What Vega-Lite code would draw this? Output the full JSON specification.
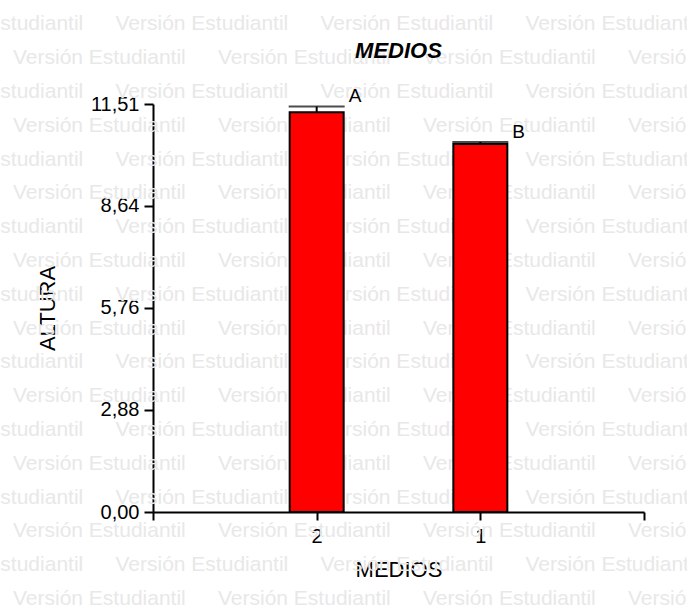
{
  "$schema": "https://vega.github.io/schema/vega-lite/v6.json",
  "width": 491,
  "height": 408,
  "autosize": {"type": "none"},
  "padding": {"left": 153, "top": 104, "right": 43, "bottom": 98},
  "background": "white",
  "config": {"view": {"stroke": null}, "font": "Liberation Sans"},
  "title": {"text": "MEDIOS", "fontSize": 22, "fontStyle": "italic", "fontWeight": "bold", "color": "black", "anchor": "middle", "offset": -50, "font": "Liberation Sans"},
  "datasets": {
    "medias": [
      {"MEDIOS": "2", "ALTURA": 11.28, "lim_sup": 11.44, "letra": "A"},
      {"MEDIOS": "1", "ALTURA": 10.38, "lim_sup": 10.44, "letra": "B"}
    ],
    "marca": [
      {"fila": 0, "col": -0.5}, {"fila": 0, "col": 0.5}, {"fila": 0, "col": 1.5}, {"fila": 0, "col": 2.5},
      {"fila": 1, "col": 0}, {"fila": 1, "col": 1}, {"fila": 1, "col": 2}, {"fila": 1, "col": 3},
      {"fila": 2, "col": -0.5}, {"fila": 2, "col": 0.5}, {"fila": 2, "col": 1.5}, {"fila": 2, "col": 2.5},
      {"fila": 3, "col": 0}, {"fila": 3, "col": 1}, {"fila": 3, "col": 2}, {"fila": 3, "col": 3},
      {"fila": 4, "col": -0.5}, {"fila": 4, "col": 0.5}, {"fila": 4, "col": 1.5}, {"fila": 4, "col": 2.5},
      {"fila": 5, "col": 0}, {"fila": 5, "col": 1}, {"fila": 5, "col": 2}, {"fila": 5, "col": 3},
      {"fila": 6, "col": -0.5}, {"fila": 6, "col": 0.5}, {"fila": 6, "col": 1.5}, {"fila": 6, "col": 2.5},
      {"fila": 7, "col": 0}, {"fila": 7, "col": 1}, {"fila": 7, "col": 2}, {"fila": 7, "col": 3},
      {"fila": 8, "col": -0.5}, {"fila": 8, "col": 0.5}, {"fila": 8, "col": 1.5}, {"fila": 8, "col": 2.5},
      {"fila": 9, "col": 0}, {"fila": 9, "col": 1}, {"fila": 9, "col": 2}, {"fila": 9, "col": 3},
      {"fila": 10, "col": -0.5}, {"fila": 10, "col": 0.5}, {"fila": 10, "col": 1.5}, {"fila": 10, "col": 2.5},
      {"fila": 11, "col": 0}, {"fila": 11, "col": 1}, {"fila": 11, "col": 2}, {"fila": 11, "col": 3},
      {"fila": 12, "col": -0.5}, {"fila": 12, "col": 0.5}, {"fila": 12, "col": 1.5}, {"fila": 12, "col": 2.5},
      {"fila": 13, "col": 0}, {"fila": 13, "col": 1}, {"fila": 13, "col": 2}, {"fila": 13, "col": 3},
      {"fila": 14, "col": -0.5}, {"fila": 14, "col": 0.5}, {"fila": 14, "col": 1.5}, {"fila": 14, "col": 2.5},
      {"fila": 15, "col": 0}, {"fila": 15, "col": 1}, {"fila": 15, "col": 2}, {"fila": 15, "col": 3},
      {"fila": 16, "col": -0.5}, {"fila": 16, "col": 0.5}, {"fila": 16, "col": 1.5}, {"fila": 16, "col": 2.5},
      {"fila": 17, "col": 0}, {"fila": 17, "col": 1}, {"fila": 17, "col": 2}, {"fila": 17, "col": 3}
    ]
  },
  "layer": [
    {
      "data": {"name": "marca"},
      "mark": {"type": "text", "text": "Versión Estudiantil", "align": "left", "baseline": "alphabetic", "fontSize": 21, "color": "#e8e8e8", "font": "Liberation Sans"},
      "encoding": {
        "x": {"field": "col", "type": "quantitative", "scale": {"domain": [0.683, 3.078], "zero": false, "nice": false}, "axis": null},
        "y": {"field": "fila", "type": "quantitative", "scale": {"domain": [2.1746, 14.2456], "reverse": true, "zero": false, "nice": false}, "axis": null}
      }
    },
    {
      "data": {"name": "medias"},
      "encoding": {
        "x": {
          "field": "MEDIOS", "type": "ordinal",
          "scale": {"type": "point", "domain": ["_i", "2", "1", "_f"], "padding": 0},
          "axis": {
            "orient": "bottom", "title": "MEDIOS", "labelAngle": 0,
            "labelExpr": "datum.value == '2' || datum.value == '1' ? datum.value : ''",
            "domainColor": "black", "domainWidth": 2, "tickColor": "black", "tickWidth": 2, "tickSize": 8,
            "labelFontSize": 20, "labelColor": "black", "labelPadding": 6, "labelFont": "Liberation Sans",
            "titleFontSize": 22, "titleFontWeight": "normal", "titleColor": "black", "titlePadding": 13, "titleFont": "Liberation Sans"
          }
        }
      },
      "layer": [
        {
          "mark": {"type": "bar", "width": 54, "fill": "#ff0000", "stroke": "black", "strokeWidth": 2},
          "encoding": {
            "y": {
              "field": "ALTURA", "type": "quantitative",
              "scale": {"domain": [0, 11.51], "nice": false, "zero": true},
              "axis": {
                "orient": "left", "title": "ALTURA", "grid": false,
                "values": [0, 2.88, 5.76, 8.64, 11.51],
                "labelExpr": "replace(format(datum.value, '.2f'), '.', ',')",
                "domainColor": "black", "domainWidth": 2, "tickColor": "black", "tickWidth": 2, "tickSize": 9,
                "labelFontSize": 20, "labelColor": "black", "labelPadding": 5, "labelFont": "Liberation Sans",
                "titleFontSize": 22, "titleFontWeight": "normal", "titleColor": "black", "titlePadding": 31, "titleFont": "Liberation Sans"
              }
            }
          }
        },
        {
          "mark": {"type": "rule", "color": "black", "strokeWidth": 2},
          "encoding": {"y": {"field": "ALTURA", "type": "quantitative"}, "y2": {"field": "lim_sup"}}
        },
        {
          "mark": {"type": "tick", "color": "black", "size": 56, "thickness": 2},
          "encoding": {"y": {"field": "lim_sup", "type": "quantitative"}}
        },
        {
          "mark": {"type": "text", "align": "left", "baseline": "alphabetic", "dx": 32, "dy": -4, "fontSize": 19, "color": "black", "font": "Liberation Sans"},
          "encoding": {"y": {"field": "lim_sup", "type": "quantitative"}, "text": {"field": "letra"}}
        }
      ]
    }
  ],
  "resolve": {"scale": {"x": "independent", "y": "independent"}}
}
